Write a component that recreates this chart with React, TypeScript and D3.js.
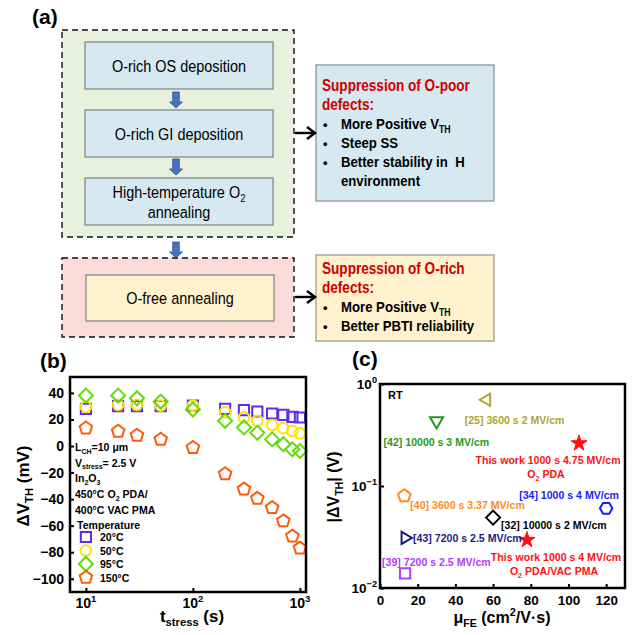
import React, { useEffect, useRef } from 'react'
import * as d3 from 'd3'

const FONT = '"Liberation Sans", Arial, Helvetica, sans-serif'

// ---- (a) flow chart text
const PROCESS_STEPS = ['O-rich OS deposition', 'O-rich GI deposition', 'High-temperature O_{2}|annealing']
const ANNEAL_STEP = 'O-free annealing'
const POOR_TITLE = ['Suppression of O-poor', 'defects:']
const POOR_BULLETS = ['More Positive V_{TH}', 'Steep SS', 'Better stability in \u00a0H', 'environment']
const RICH_TITLE = ['Suppression of O-rich', 'defects:']
const RICH_BULLETS = ['More Positive V_{TH}', 'Better PBTI reliability']

// ---- (b) PBTI shift vs stress time
const T_STRESS = [10, 20, 30, 50, 100, 200, 300, 400, 550, 700, 850, 1000]
const DVTH_20C = [28, 30, 30, 30, 30.5, 28, 27, 26, 24.5, 23.5, 22, 21.5]
const DVTH_50C = [29.5, 31, 31, 30.5, 30.5, 25.5, 21.5, 19, 15.8, 13.5, 11.3, 9.5]
const DVTH_95C = [38, 38, 36, 33.5, 27.5, 19, 14, 10, 5, 1.3, -2.5, -3.7]
const DVTH_150C = [13.5, 11, 8, 5, -1.2, -21, -32.5, -39.5, -46.5, -56.5, -68, -77]
const TEMP_LABELS = ['20°C', '50°C', '95°C', '150°C']
const Y_TICKS_B = [40, 20, 0, -20, -40, -60, -80, -100]
const X_TICKS_B = [10, 100, 1000]
const NOTES_B = ['L_{CH}=10 μm', 'V_{stress}= 2.5 V', 'In_{2}O_{3}', '450°C O_{2} PDA/', '400°C VAC PMA']

// ---- (c) benchmark
const REF_LABELS = [
  '[25] 3600 s 2 MV/cm',
  '[42] 10000 s 3 MV/cm',
  'This work 1000 s 4.75 MV/cm',
  '[34] 1000 s 4 MV/cm',
  '[40] 3600 s 3.37 MV/cm',
  '[32] 10000 s 2 MV/cm',
  '[43] 7200 s 2.5 MV/cm',
  'This work 1000 s 4 MV/cm',
  '[39] 7200 s 2.5 MV/cm',
]
const REF_SUBLABELS = ['', '', 'O_{2} PDA', '', '', '', '', 'O_{2} PDA/VAC PMA', '']
const MU_FE = [56.6, 30, 105.6, 120, 12.9, 60, 13.3, 78, 13.3]
const ABS_DVTH = [0.7, 0.434, 0.262, 0.0604, 0.08, 0.049, 0.031, 0.0296, 0.0139]
const X_TICKS_C = [0, 20, 40, 60, 80, 100, 120]
const Y_TICKS_C = [1, 0.1, 0.01]
const Y_TICK_EXP_C = ['0', '−1', '−2']

// marker look per point in (c)
const REF_STYLE = [
  { shape: 'triLeft', color: '#b3a32c', fill: 'none' },
  { shape: 'triDown', color: '#1f9a1f', fill: 'none' },
  { shape: 'star', color: '#ff1111', fill: '#ff1111' },
  { shape: 'hex', color: '#1a1aff', fill: 'none' },
  { shape: 'pent', color: '#ff8c1a', fill: 'none' },
  { shape: 'diamond', color: '#000000', fill: 'none' },
  { shape: 'triRight', color: '#1b1b85', fill: 'none' },
  { shape: 'star', color: '#ff1111', fill: '#ff1111' },
  { shape: 'square', color: '#b23cff', fill: 'none' },
]
// label anchor: [dx, dy, anchor] relative to marker
const REF_LABEL_POS: [number, number, string][] = [
  [-22, 20, 'start'],
  [-53, 21, 'start'],
  [-31, 17, 'middle'],
  [-87, -13, 'start'],
  [6, 9, 'start'],
  [8, 7, 'start'],
  [8, 0, 'start'],
  [29, 17, 'middle'],
  [-23, -11, 'start'],
]

function polygon(n: number, r: number, rot: number) {
  const pts = d3.range(n).map((i) => {
    const a = rot + (i * 2 * Math.PI) / n
    return [r * Math.cos(a), r * Math.sin(a)]
  })
  return 'M' + pts.map((p) => p.join(',')).join('L') + 'Z'
}

function shapePath(shape: string) {
  switch (shape) {
    case 'square':
      return polygon(4, 7.2, Math.PI / 4)
    case 'circle':
      return d3.symbol(d3.symbolCircle, 90)()
    case 'diamond':
      return polygon(4, 7, 0)
    case 'pent':
      return polygon(5, 6.6, -Math.PI / 2)
    case 'hex':
      return polygon(6, 6.2, 0)
    case 'triLeft':
      return polygon(3, 7, Math.PI)
    case 'triRight':
      return polygon(3, 7, 0)
    case 'triDown':
      return polygon(3, 7.5, Math.PI / 2)
    case 'star':
      return d3.symbol(d3.symbolStar, 80)()
  }
  return ''
}

// writes "a_{b}c^{d}" as tspans
function rich(text: d3.Selection<SVGTextElement, unknown, null, undefined>, s: string, size: number) {
  const parts = s.split(/(_\{[^}]*\}|\^\{[^}]*\})/).filter((p) => p)
  let cur = 0
  parts.forEach((p) => {
    let target = 0
    let content = p
    let fs = size
    if (p.startsWith('_{')) {
      target = size * 0.25
      content = p.slice(2, -1)
      fs = size * 0.66
    } else if (p.startsWith('^{')) {
      target = -size * 0.42
      content = p.slice(2, -1)
      fs = size * 0.68
    }
    text
      .append('tspan')
      .attr('dy', target - cur)
      .attr('font-size', fs)
      .text(content)
    cur = target
  })
}

function addText(
  g: d3.Selection<SVGGElement, unknown, null, undefined>,
  x: number,
  y: number,
  s: string,
  opts: { size: number; weight?: string; fill?: string; anchor?: string; sx?: number }
) {
  const t = g
    .append('text')
    .attr('transform', `translate(${x},${y}) scale(${opts.sx ?? 1},1)`)
    .attr('font-size', opts.size)
    .attr('font-weight', opts.weight ?? 'normal')
    .attr('fill', opts.fill ?? '#000')
    .attr('text-anchor', opts.anchor ?? 'start')
  rich(t, s, opts.size)
  return t
}

function drawFlow(g: d3.Selection<SVGGElement, unknown, null, undefined>) {
  const SX = 0.85
  addText(g, 32, 24, '(a)', { size: 21, weight: 'bold' })

  // dashed group frames
  g.append('rect').attr('x', 62).attr('y', 30).attr('width', 232).attr('height', 207)
    .attr('fill', '#e9f0dc').attr('stroke', '#111').attr('stroke-width', 1.4).attr('stroke-dasharray', '6,4')
  g.append('rect').attr('x', 62).attr('y', 258).attr('width', 232).attr('height', 79)
    .attr('fill', '#fcdcd8').attr('stroke', '#111').attr('stroke-width', 1.4).attr('stroke-dasharray', '6,4')

  const boxTops = [42, 110, 178]
  PROCESS_STEPS.forEach((s, i) => {
    g.append('rect').attr('x', 85).attr('y', boxTops[i]).attr('width', 188).attr('height', 47)
      .attr('fill', '#d6e9f0').attr('stroke', '#808a8e').attr('stroke-width', 1.3)
    const lines = s.split('|')
    const cy = boxTops[i] + 23.5
    lines.forEach((l, j) => {
      const y = cy + (j - (lines.length - 1) / 2) * 20 + 6
      addText(g, 179, y, l, { size: 17, anchor: 'middle', sx: SX })
    })
  })
  g.append('rect').attr('x', 86).attr('y', 275).attr('width', 188).attr('height', 46)
    .attr('fill', '#fff2cd').attr('stroke', '#808a8e').attr('stroke-width', 1.3)
  addText(g, 180, 304, ANNEAL_STEP, { size: 17, anchor: 'middle', sx: SX })

  // blue down arrows
  const blockArrow = (cx: number, y0: number) => {
    const h = 16
    const p = [
      [cx - 3.3, y0], [cx + 3.3, y0], [cx + 3.3, y0 + h - 6], [cx + 6.5, y0 + h - 6],
      [cx, y0 + h], [cx - 6.5, y0 + h - 6], [cx - 3.3, y0 + h - 6],
    ]
    g.append('path').attr('d', 'M' + p.map((q) => q.join(',')).join('L') + 'Z')
      .attr('fill', '#4472c4').attr('stroke', '#2f528f').attr('stroke-width', 0.8)
  }
  blockArrow(176, 92)
  blockArrow(176, 159)
  blockArrow(176, 242)

  // right boxes
  g.append('rect').attr('x', 316).attr('y', 65).attr('width', 178).attr('height', 136)
    .attr('fill', '#d6e9f0').attr('stroke', '#8a9599').attr('stroke-width', 1.3)
  g.append('rect').attr('x', 316).attr('y', 255).attr('width', 178).attr('height', 86)
    .attr('fill', '#fff2cd').attr('stroke', '#a09a88').attr('stroke-width', 1.3)

  const blackArrow = (y: number) => {
    g.append('line').attr('x1', 295).attr('x2', 315).attr('y1', y).attr('y2', y)
      .attr('stroke', '#000').attr('stroke-width', 2.4)
    g.append('path').attr('d', `M${307},${y - 6}L${315},${y}L${307},${y + 6}`)
      .attr('fill', 'none').attr('stroke', '#000').attr('stroke-width', 2.4)
  }
  blackArrow(133)
  blackArrow(297)

  const block = (top: number, title: string[], bullets: string[], lh: number) => {
    title.forEach((t, i) => addText(g, 322, top + i * lh, t, { size: 16, weight: 'bold', fill: '#d00000', sx: SX }))
    bullets.forEach((b, i) => {
      const y = top + (title.length + i) * lh
      if (!b.startsWith('environment')) addText(g, 323, y, '•', { size: 13, weight: 'bold' })
      addText(g, 341, y, b, { size: 15.5, weight: 'bold', sx: SX })
    })
  }
  block(91, POOR_TITLE, POOR_BULLETS, 19)
  block(274, RICH_TITLE, RICH_BULLETS, 19)
}

function drawStress(g: d3.Selection<SVGGElement, unknown, null, undefined>) {
  const L = 70, R = 306, T = 377, B = 592
  const x = d3.scaleLog().domain([7.1, 1140]).range([L, R])
  const y = d3.scaleLinear().domain([-110, 52]).range([B, T])

  addText(g, 40, 368, '(b)', { size: 21, weight: 'bold' })

  const yAxis = g.append('g').attr('transform', `translate(${L},0)`)
    .call(d3.axisLeft(y).tickValues(Y_TICKS_B).tickSize(-4).tickPadding(6))
  yAxis.select('.domain').remove()
  yAxis.selectAll('line').attr('stroke-width', 2)
  yAxis.selectAll('text').attr('font-size', 14).attr('font-weight', 'bold').attr('font-family', FONT)

  const xAxis = g.append('g').attr('transform', `translate(0,${B})`)
    .call(d3.axisBottom(x).tickValues(X_TICKS_B).tickSize(-4).tickFormat(() => ''))
  xAxis.select('.domain').remove()
  xAxis.selectAll('line').attr('stroke-width', 2)
  X_TICKS_B.forEach((v) => {
    addText(g, x(v), 608, `10^{${Math.round(Math.log10(v))}}`, { size: 14, weight: 'bold', anchor: 'middle' })
  })

  const series = [
    { vals: DVTH_20C, shape: 'square', color: '#5b2cf0' },
    { vals: DVTH_50C, shape: 'circle', color: '#ffe400' },
    { vals: DVTH_95C, shape: 'diamond', color: '#62dd05' },
    { vals: DVTH_150C, shape: 'pent', color: '#ff5a0a' },
  ]
  series.forEach((s) => {
    g.append('g')
      .selectAll('path')
      .data(s.vals)
      .enter()
      .append('path')
      .attr('transform', (d, i) => `translate(${x(T_STRESS[i])},${y(d)})`)
      .attr('d', shapePath(s.shape))
      .attr('fill', 'none')
      .attr('stroke', s.color)
      .attr('stroke-width', 2)
  })

  const noteY = [451, 466.5, 482, 498, 514]
  NOTES_B.forEach((n, i) => addText(g, 75, noteY[i], n, { size: 11.5, weight: 'bold', sx: 0.92 }))
  addText(g, 77, 528.5, 'Temperature', { size: 11.5, weight: 'bold', sx: 0.92 })
  const legY = [537, 550.5, 564, 577.5]
  series.forEach((s, i) => {
    g.append('path').attr('transform', `translate(${x(10)},${legY[i]})`).attr('d', shapePath(s.shape))
      .attr('fill', 'none').attr('stroke', s.color).attr('stroke-width', 2)
    addText(g, 100, legY[i] + 4, TEMP_LABELS[i], { size: 11.5, weight: 'bold', sx: 0.92 })
  })

  g.append('rect').attr('x', L).attr('y', T).attr('width', R - L).attr('height', B - T)
    .attr('fill', 'none').attr('stroke', '#000').attr('stroke-width', 2.5)

  const yl = addText(g, 0, 0, 'ΔV_{TH} (mV)', { size: 17, weight: 'bold', anchor: 'middle' })
  yl.attr('transform', `translate(29,486) rotate(-90)`)
  addText(g, 192, 622, 't_{stress} (s)', { size: 17, weight: 'bold', anchor: 'middle' })
}

function drawBench(g: d3.Selection<SVGGElement, unknown, null, undefined>) {
  const L = 380, R = 625, T = 384, B = 588
  const x = d3.scaleLinear().domain([0, 130]).range([L, R])
  const y = d3.scaleLog().domain([0.01, 1]).range([B, T])

  addText(g, 352, 366, '(c)', { size: 21, weight: 'bold' })

  const xAxis = g.append('g').attr('transform', `translate(0,${B})`)
    .call(d3.axisBottom(x).tickValues(X_TICKS_C).tickSize(-4).tickPadding(7))
  xAxis.select('.domain').remove()
  xAxis.selectAll('line').attr('stroke-width', 2)
  xAxis.selectAll('text').attr('font-size', 13.5).attr('font-weight', 'bold').attr('font-family', FONT)

  const yAxis = g.append('g').attr('transform', `translate(${L},0)`)
    .call(d3.axisLeft(y).tickValues(Y_TICKS_C).tickSize(-4).tickFormat(() => ''))
  yAxis.select('.domain').remove()
  yAxis.selectAll('line').attr('stroke-width', 2)
  Y_TICKS_C.forEach((v, i) => {
    addText(g, 377, y(v) + 5, `10^{${Y_TICK_EXP_C[i]}}`, { size: 13.5, weight: 'bold', anchor: 'end' })
  })

  addText(g, 388, 399, 'RT', { size: 11, weight: 'bold' })

  g.append('g')
    .selectAll('path')
    .data(MU_FE)
    .enter()
    .append('path')
    .attr('transform', (d, i) => `translate(${x(d)},${y(ABS_DVTH[i])})`)
    .attr('d', (d, i) => shapePath(REF_STYLE[i].shape))
    .attr('fill', (d, i) => REF_STYLE[i].fill)
    .attr('stroke', (d, i) => REF_STYLE[i].color)
    .attr('stroke-width', (d, i) => (REF_STYLE[i].shape === 'star' ? 1 : 2))

  REF_LABELS.forEach((lab, i) => {
    const px = x(MU_FE[i]) + REF_LABEL_POS[i][0]
    const py = y(ABS_DVTH[i]) + REF_LABEL_POS[i][1] + 4
    const anchor = REF_LABEL_POS[i][2]
    const color = REF_STYLE[i].color
    addText(g, px, py, lab, { size: 11.5, weight: 'bold', fill: color, anchor, sx: 0.92 })
    if (REF_SUBLABELS[i]) {
      addText(g, px - 2, py + 14, REF_SUBLABELS[i], { size: 11.5, weight: 'bold', fill: color, anchor, sx: 0.92 })
    }
  })

  g.append('rect').attr('x', L).attr('y', T).attr('width', R - L).attr('height', B - T)
    .attr('fill', 'none').attr('stroke', '#000').attr('stroke-width', 2.5)

  const yl = addText(g, 0, 0, '|ΔV_{TH}| (V)', { size: 16, weight: 'bold', anchor: 'middle' })
  yl.attr('transform', `translate(339,487) rotate(-90)`)
  addText(g, 502, 623, 'μ_{FE} (cm^{2}/V·s)', { size: 16, weight: 'bold', anchor: 'middle' })
}

export default function App() {
  const svgRef = useRef<SVGSVGElement>(null)

  useEffect(() => {
    if (!svgRef.current) return
    const svg = d3.select(svgRef.current)
    svg.selectAll('*').remove()
    const root = svg.append('g')
    drawFlow(root.append('g'))
    drawStress(root.append('g'))
    drawBench(root.append('g'))
  }, [])

  return (
    <div style={{ position: 'absolute', left: 0, top: 0 }}>
      <svg
        ref={svgRef}
        width={634}
        height={635}
        style={{ display: 'block', background: '#fff', fontFamily: FONT }}
      />
    </div>
  )
}
